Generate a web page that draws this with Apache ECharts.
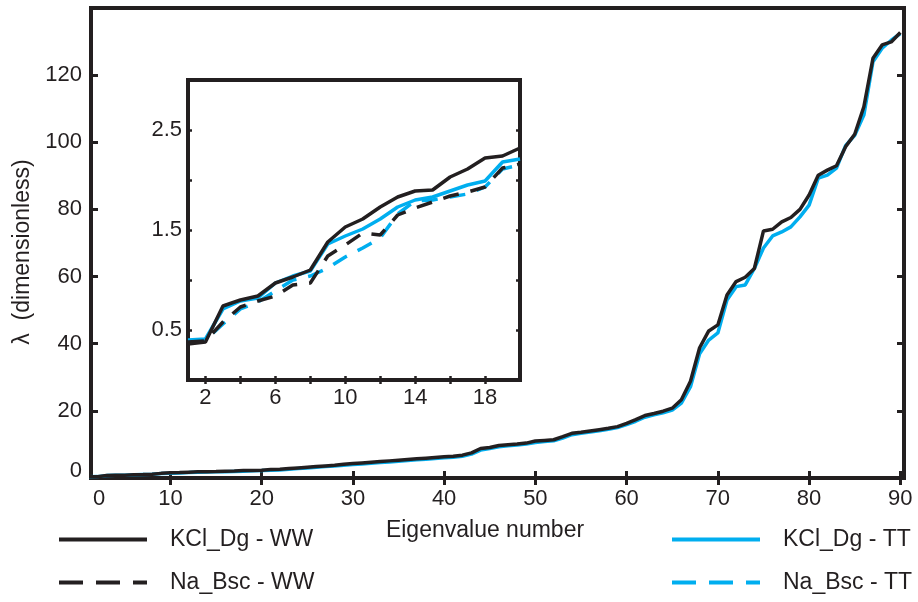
<!DOCTYPE html>
<html>
<head>
<meta charset="utf-8">
<script src="https://cdn.jsdelivr.net/npm/echarts@6/dist/echarts.min.js"></script>
<style>html,body{margin:0;padding:0;background:#fff}#c{width:918px;height:602px}</style>
</head>
<body>
<div id="c"></div>
<script>
// ---- data ----
const kclWW = [0.36,0.38,0.74,0.80,0.84,0.97,1.03,1.10,1.38,1.53,1.61,1.73,1.83,1.89,1.90,2.03,2.11,2.22,2.24,2.32,
  2.5,2.6,2.8,3.0,3.2,3.4,3.6,3.8,4.1,4.3,4.5,4.7,4.9,5.1,5.3,5.5,5.7,5.9,6.1,6.3,
  6.5,6.8,7.5,8.8,9.1,9.7,9.9,10.1,10.4,11.0,11.2,11.4,12.3,13.3,13.6,14.0,14.4,14.8,15.3,16.3,
  17.4,18.6,19.2,19.9,20.8,23.3,28.8,38.8,43.8,45.6,54.5,58.5,59.8,62.4,73.6,74.1,76.3,77.6,80.0,84.3,
  90.2,91.7,93.0,98.7,102.4,110.6,125.0,129.0,129.9,132.7];
const kclTT = [0.40,0.41,0.71,0.79,0.82,0.97,1.04,1.09,1.36,1.44,1.51,1.61,1.73,1.80,1.83,1.89,1.95,1.99,2.18,2.21,
  2.3,2.4,2.6,2.8,3.0,3.2,3.4,3.6,3.8,4.0,4.2,4.4,4.6,4.8,5.0,5.2,5.4,5.6,5.8,6.0,
  6.2,6.5,7.1,8.3,8.8,9.3,9.6,9.8,10.1,10.6,10.9,11.1,11.9,12.9,13.3,13.7,14.1,14.5,15.0,15.9,
  16.9,18.1,18.8,19.4,20.2,22.3,27.2,37.0,41.1,43.2,53.0,57.0,57.5,62.4,68.5,72.1,73.3,74.8,77.8,81.3,
  89.3,90.2,92.3,99.0,102.1,108.1,124.0,128.0,130.4,132.4];
const naWW = [0.38,0.39,0.58,0.73,0.79,0.84,0.95,0.97,1.24,1.35,1.47,1.45,1.65,1.72,1.78,1.84,1.88,1.93,2.12,2.16];
const naTT = [0.39,0.40,0.56,0.71,0.78,0.89,1.00,1.04,1.12,1.23,1.32,1.42,1.66,1.79,1.80,1.83,1.86,1.93,2.11,2.15];
const insetCount = 20;

// tick / label values
const mainXTicks = [10,20,30,40,50,60,70,80,90];
const mainXLabels = [2.2,10,20,30,40,50,60,70,80,90];
const mainYTicks = [20,40,60,80,100,120];
const mainYLabels = [2.1,20,40,60,80,100,120];
const insetXTicks = [2,4,6,8,10,12,14,16,18];
const insetXLabels = [2,6,10,14,18];
const insetYTicks = [0.5,1,1.5,2,2.5];
const insetYLabels = [0.5,1.5,2.5];

const names = ['KCl_Dg - WW','Na_Bsc - WW','KCl_Dg - TT','Na_Bsc - TT'];
const BLACK = '#231f20', CYAN = '#00aeef';
const FONT = '"Liberation Sans", Arial, Helvetica, sans-serif';

function pairs(arr, n){ const a = n ? arr.slice(0,n) : arr; return a.map((v,i)=>[i+1,v]); }

const chart = echarts.init(document.getElementById('c'), null, {renderer:'canvas'});

function axisDef(grid, min, max, ticks, labels, pos, len, tw, margin, fmt, extra){
  return Object.assign({
    type:'value', gridIndex:grid, min:min, max:max, position:pos,
    axisLine:{show:false},
    axisTick:{show:true, inside:true, length:len, customValues:ticks, lineStyle:{color:BLACK, width:tw}},
    axisLabel: labels ? {show:true, customValues:labels, margin:margin, fontSize:22, color:BLACK, fontFamily:FONT, formatter:fmt} : {show:false},
    splitLine:{show:false}
  }, extra||{});
}

const fmtMainX = v => v < 5 ? '0' : String(v);
const fmtMainY = v => v < 5 ? '0' : String(v);
const fmtInset = v => String(v);

const hiddenSym = {opacity:0};

const option = {
  backgroundColor:'#fff',
  animation:false,
  textStyle:{fontFamily:FONT},
  grid:[
    {left:91, top:8, right:14, bottom:124, show:true, borderColor:BLACK, borderWidth:4, backgroundColor:'transparent'},
    {left:188, top:80, right:398, bottom:222, show:true, borderColor:BLACK, borderWidth:4, backgroundColor:'#fff'}
  ],
  xAxis:[
    axisDef(0, 1.3, 90.4, mainXTicks, mainXLabels, 'bottom', 7, 3, 10, fmtMainX,
      {name:'Eigenvalue number', nameLocation:'middle', nameGap:41,
       nameTextStyle:{fontSize:23, color:BLACK, fontFamily:FONT, padding:[0,25,0,0]}}),
    axisDef(0, 1.3, 90.4, mainXTicks, null, 'top', 7, 3),
    axisDef(1, 1, 20, insetXTicks, insetXLabels, 'bottom', 4, 2.5, 7, fmtInset),
    axisDef(1, 1, 20, insetXTicks, null, 'top', 4, 2.5)
  ],
  yAxis:[
    axisDef(0, 0, 140, mainYTicks, mainYLabels, 'left', 7, 3, 9, fmtMainY,
      {name:'λ  (dimensionless)', nameLocation:'middle', nameGap:54, nameRotate:90,
       nameTextStyle:{fontSize:23, color:BLACK, fontFamily:FONT, padding:[0,18,0,0]}}),
    axisDef(0, 0, 140, mainYTicks, null, 'right', 7, 3),
    axisDef(1, 0, 3, insetYTicks, insetYLabels, 'left', 4, 2.5, 6, fmtInset),
    axisDef(1, 0, 3, insetYTicks, null, 'right', 4, 2.5)
  ],
  legend:[
    {orient:'vertical', left:57, top:528, padding:0, itemWidth:88, itemHeight:24, itemGap:20, selectedMode:false,
     textStyle:{fontSize:23, color:BLACK, fontFamily:FONT, padding:[0,0,0,18]},
     data:[{name:names[0], itemStyle:hiddenSym, lineStyle:{width:4, type:'solid'}},
           {name:names[1], itemStyle:hiddenSym, lineStyle:{width:4, type:[24,13]}}]},
    {orient:'vertical', left:670, top:528, padding:0, itemWidth:88, itemHeight:24, itemGap:20, selectedMode:false,
     textStyle:{fontSize:23, color:BLACK, fontFamily:FONT, padding:[0,0,0,18]},
     data:[{name:names[2], itemStyle:hiddenSym, lineStyle:{width:4, type:'solid'}},
           {name:names[3], itemStyle:hiddenSym, lineStyle:{width:4, type:[24,13]}}]}
  ],
  series:[
    {name:names[2], type:'line', xAxisIndex:0, yAxisIndex:0, data:pairs(kclTT), symbol:'none', lineStyle:{color:CYAN, width:3.5}, itemStyle:{color:CYAN}, z:2},
    {name:names[0], type:'line', xAxisIndex:0, yAxisIndex:0, data:pairs(kclWW), symbol:'none', lineStyle:{color:BLACK, width:3.5}, itemStyle:{color:BLACK}, z:3},
    {name:names[2], type:'line', xAxisIndex:2, yAxisIndex:2, data:pairs(kclTT, insetCount), symbol:'none', lineStyle:{color:CYAN, width:3.5}, itemStyle:{color:CYAN}, z:4},
    {name:names[3], type:'line', xAxisIndex:2, yAxisIndex:2, data:pairs(naTT), symbol:'none', lineStyle:{color:CYAN, width:3.5, type:[16,12]}, itemStyle:{color:CYAN}, z:5},
    {name:names[1], type:'line', xAxisIndex:2, yAxisIndex:2, data:pairs(naWW), symbol:'none', lineStyle:{color:BLACK, width:3.5, type:[16,12]}, itemStyle:{color:BLACK}, z:6},
    {name:names[0], type:'line', xAxisIndex:2, yAxisIndex:2, data:pairs(kclWW, insetCount), symbol:'none', lineStyle:{color:BLACK, width:3.5}, itemStyle:{color:BLACK}, z:7}
  ]
};
chart.setOption(option);
</script>
</body>
</html>
